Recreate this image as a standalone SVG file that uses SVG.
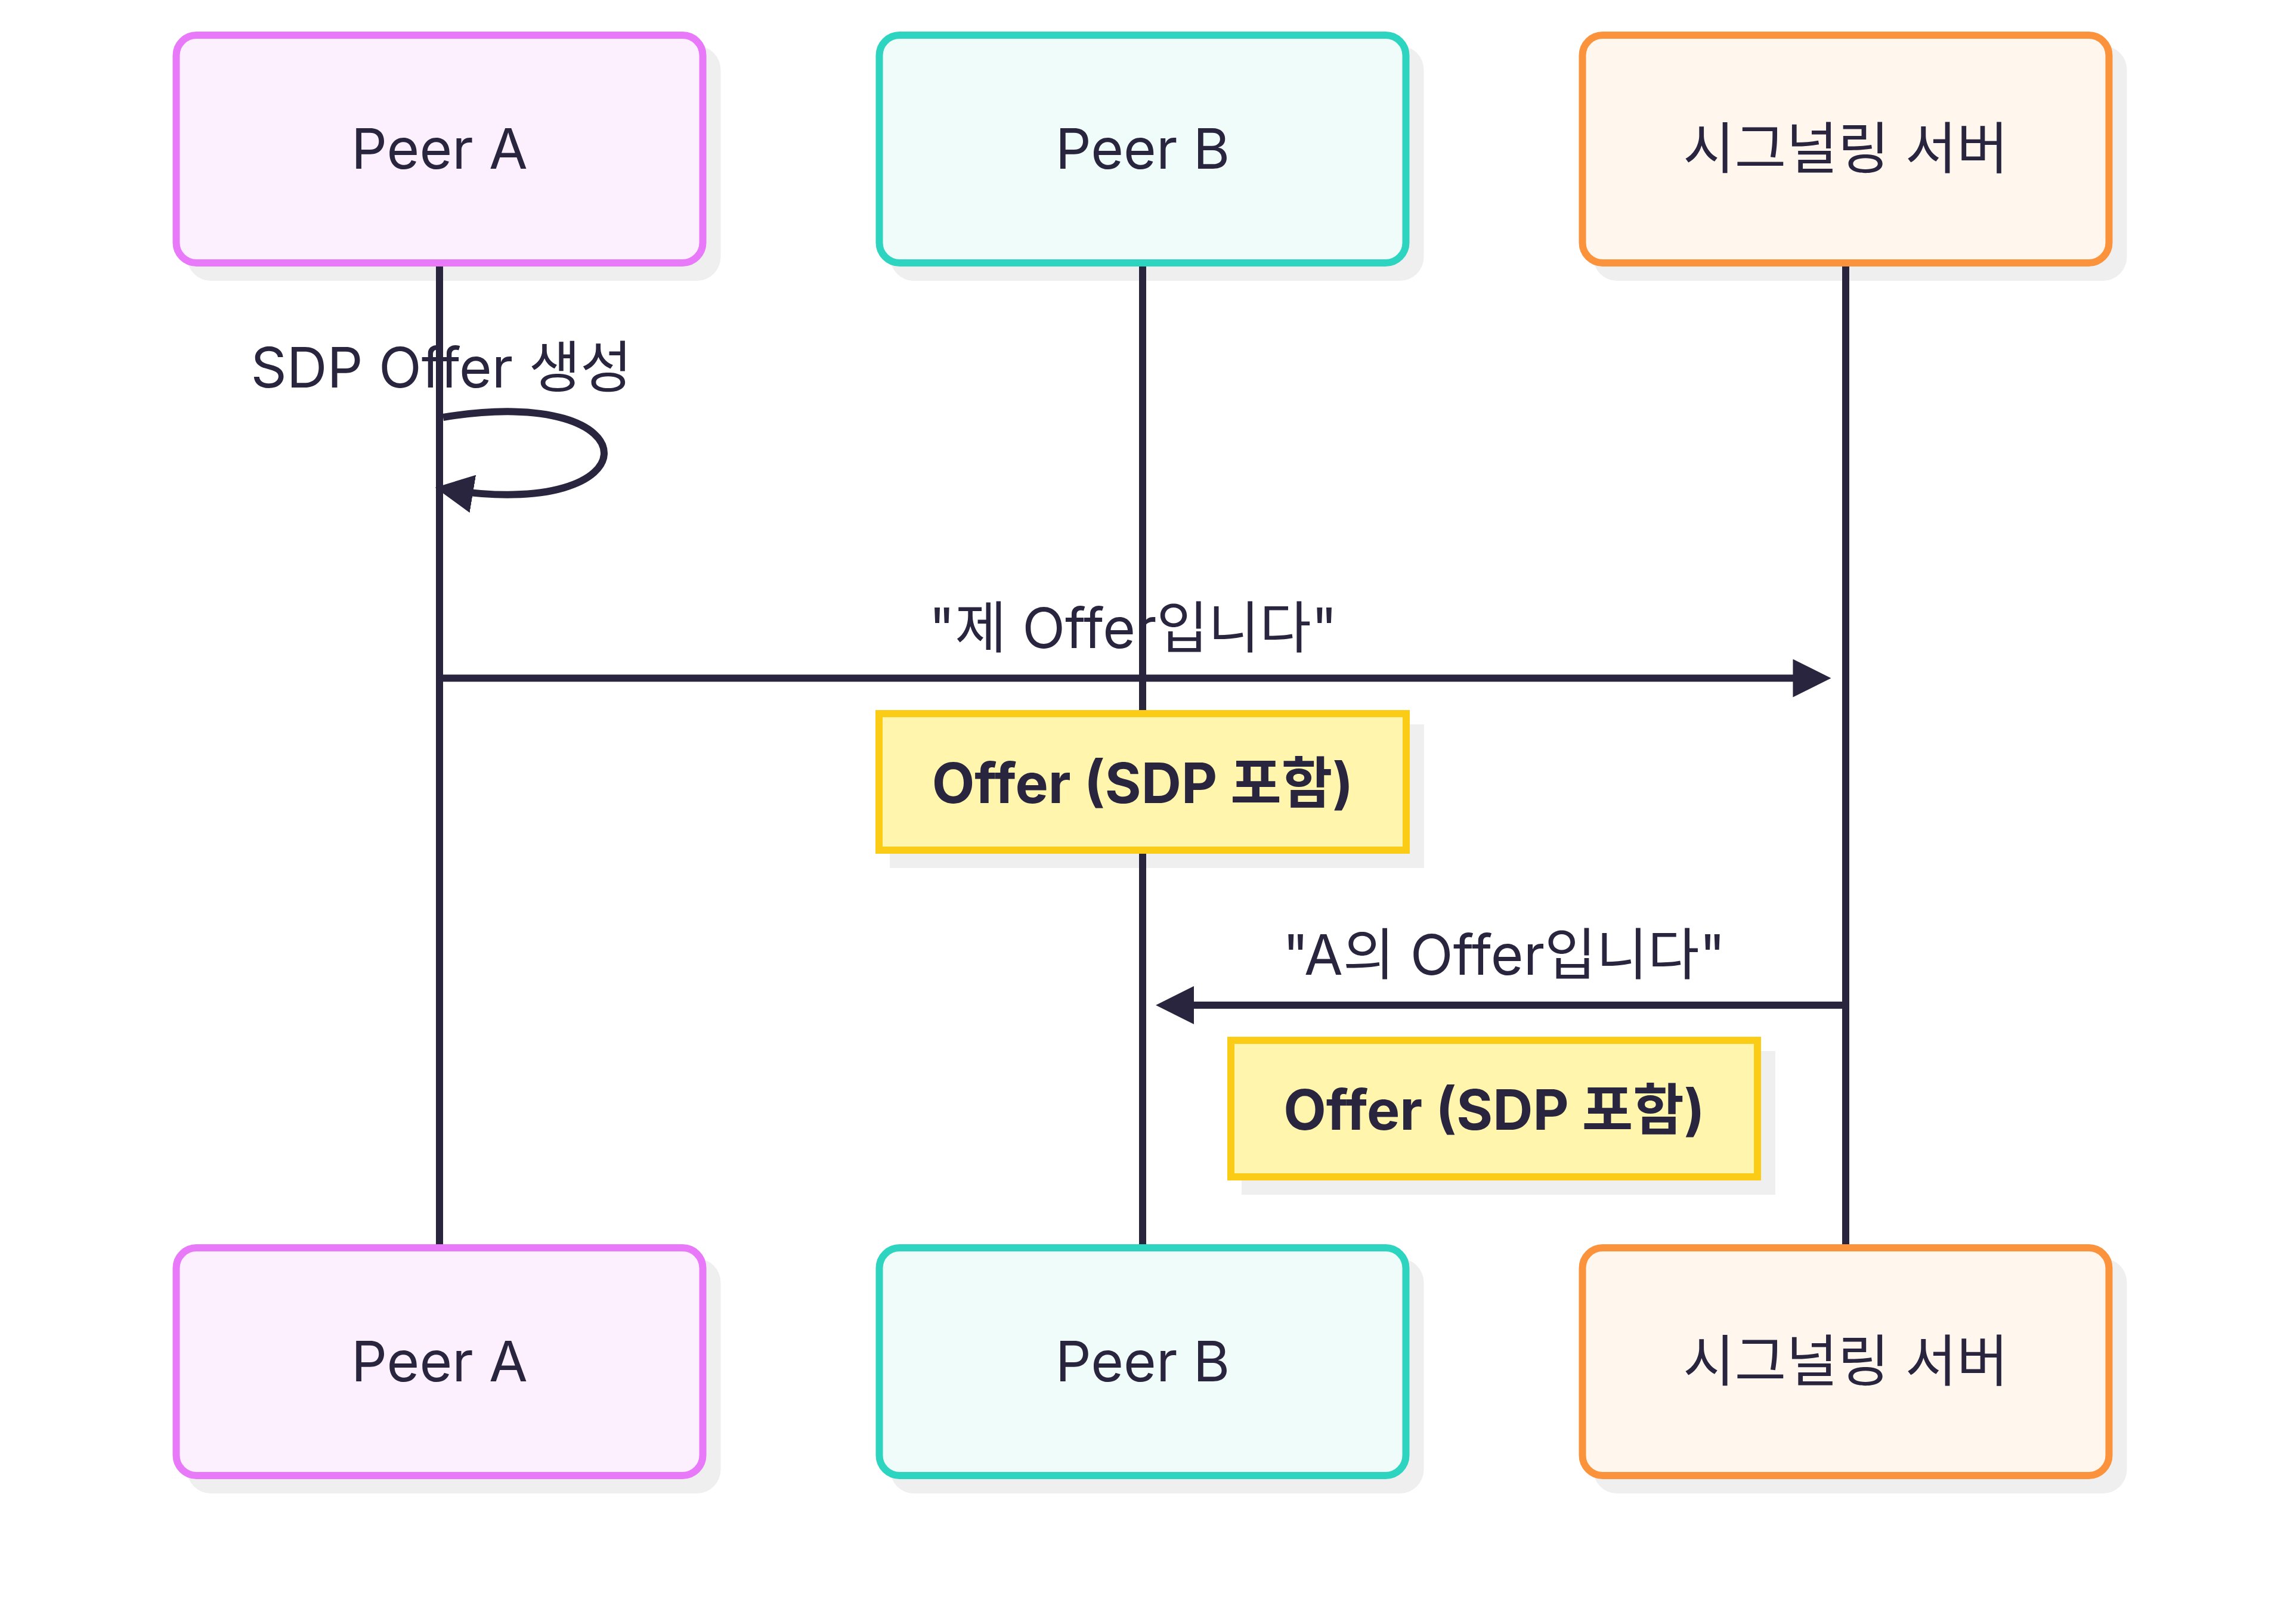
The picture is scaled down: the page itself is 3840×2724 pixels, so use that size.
<svg xmlns="http://www.w3.org/2000/svg" width="3840" height="2724" viewBox="0 0 3840 2724">
<style>
  .bg{fill:#ffffff}
  .shadow{fill:#efefef}
  .box{stroke-width:12}
  .peerA{fill:#fdf0fe;stroke:#e879f9}
  .peerB{fill:#effcf9;stroke:#2dd4bf}
  .server{fill:#fff6ee;stroke:#fb923c}
  .note{fill:#fff5ad;stroke:#facc15;stroke-width:12}
  .lbl{font-family:Inter,"Noto Sans CJK KR",sans-serif;font-size:94px;fill:#29253e;text-anchor:middle}
  .notelbl{font-family:Inter,"Noto Sans CJK KR",sans-serif;font-size:93px;font-weight:bold;fill:#29253e;text-anchor:middle}
  .life{stroke:#29253e;stroke-width:12}
  .msg{stroke:#29253e;stroke-width:12;fill:none}
</style>
<defs>
  <marker id="arrowhead" viewBox="0 0 10 10" refX="7.9" refY="5" markerUnits="userSpaceOnUse" markerWidth="64" markerHeight="64" orient="auto">
    <path d="M0,0 L10,5 L0,10 z" fill="#29253e"/>
  </marker>
</defs>
<rect class="bg" x="0" y="0" width="3840" height="2724"/>

<g id="shadows">
  <rect class="shadow" x="313.5" y="77" width="895" height="394" rx="40"/>
  <rect class="shadow" x="1492.5" y="77" width="895" height="394" rx="40"/>
  <rect class="shadow" x="2671.5" y="77" width="895" height="394" rx="40"/>
  <rect class="shadow" x="313.5" y="2111" width="895" height="394" rx="40"/>
  <rect class="shadow" x="1492.5" y="2111" width="895" height="394" rx="40"/>
  <rect class="shadow" x="2671.5" y="2111" width="895" height="394" rx="40"/>
  <rect class="shadow" x="1492" y="1215" width="896" height="241"/>
  <rect class="shadow" x="2082" y="1763" width="895" height="241"/>
</g>

<g id="lifelines">
  <line class="life" x1="737" y1="447" x2="737" y2="2093"/>
  <line class="life" x1="1916" y1="447" x2="1916" y2="2093"/>
  <line class="life" x1="3095" y1="447" x2="3095" y2="2093"/>
</g>

<g id="actor-peer-a-top">
  <rect class="box peerA" x="295.5" y="59" width="883" height="382" rx="34"/>
  <text class="lbl" x="737" y="283">Peer A</text>
</g>
<g id="actor-peer-b-top">
  <rect class="box peerB" x="1474.5" y="59" width="883" height="382" rx="34"/>
  <text class="lbl" x="1916" y="283">Peer B</text>
</g>
<g id="actor-server-top">
  <rect class="box server" x="2653.5" y="59" width="883" height="382" rx="34"/>
  <text class="lbl" x="3095" y="283">시그널링 서버</text>
</g>

<g id="actor-peer-a-bottom">
  <rect class="box peerA" x="295.5" y="2093" width="883" height="382" rx="34"/>
  <text class="lbl" x="737" y="2317">Peer A</text>
</g>
<g id="actor-peer-b-bottom">
  <rect class="box peerB" x="1474.5" y="2093" width="883" height="382" rx="34"/>
  <text class="lbl" x="1916" y="2317">Peer B</text>
</g>
<g id="actor-server-bottom">
  <rect class="box server" x="2653.5" y="2093" width="883" height="382" rx="34"/>
  <text class="lbl" x="3095" y="2317">시그널링 서버</text>
</g>

<g id="connectors">
  <path class="msg" d="M743,700 C1103,640 1103,880 743,820" marker-end="url(#arrowhead)"/>
  <line class="msg" x1="737" y1="1137.5" x2="3057" y2="1137.5" marker-end="url(#arrowhead)"/>
  <line class="msg" x1="3089" y1="1686" x2="1951.5" y2="1686" marker-end="url(#arrowhead)"/>
</g>

<g id="message-labels">
  <text class="lbl" x="740" y="650">SDP Offer 생성</text>
  <text class="lbl" x="1900" y="1087">"제 Offer입니다"</text>
  <text class="lbl" x="2522" y="1635">"A의 Offer입니다"</text>
</g>

<g id="note-1">
  <rect class="note" x="1474" y="1197" width="884" height="229"/>
  <text class="notelbl" x="1916" y="1347">Offer (SDP 포함)</text>
</g>
<g id="note-2">
  <rect class="note" x="2064" y="1745" width="883" height="229"/>
  <text class="notelbl" x="2505.5" y="1895">Offer (SDP 포함)</text>
</g>
</svg>
